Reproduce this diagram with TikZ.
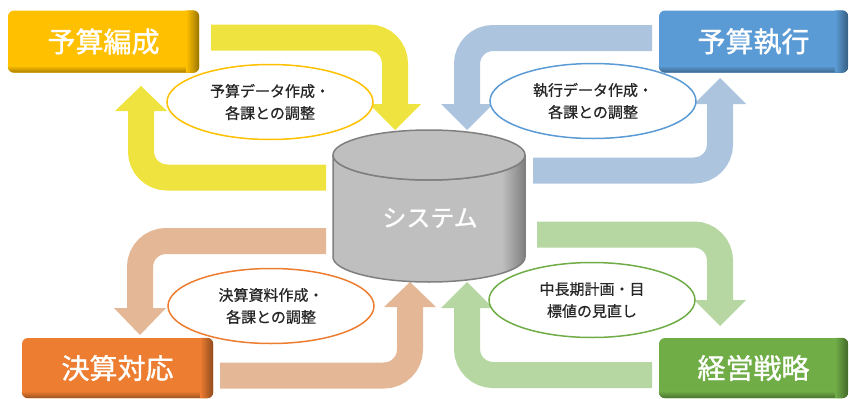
\documentclass[tikz,border=0pt]{standalone}
\usepackage{fontspec}
\newfontfamily\jp[FakeBold=0.6]{Noto Sans CJK JP}
\newfontfamily\jpb[FakeBold=1.2]{Noto Sans CJK JP}
\usetikzlibrary{shapes.geometric}
\definecolor{ay}{HTML}{EFE43F}
\definecolor{ab}{HTML}{ACC4DE}
\definecolor{ao}{HTML}{E4B896}
\definecolor{ag}{HTML}{B6D7A2}
\definecolor{cy}{HTML}{FFC000}
\definecolor{cb}{HTML}{5B9BD5}
\definecolor{co}{HTML}{ED7D31}
\definecolor{cg}{HTML}{70AD47}
\definecolor{cylg}{HTML}{BFBFBF}
\definecolor{cyld}{HTML}{7F7F7F}
\pgfdeclarehorizontalshading{cylsh}{100bp}{color(0bp)=(cylg); color(25bp)=(cylg); color(69bp)=(cylg); color(75bp)=(cyld); color(100bp)=(cyld)}
\newcommand\boxshade[2]{%
  \begin{scope}
    \clip[rounded corners=6pt] (#1.south west) rectangle (#1.north east);
    \shade[top color=#2, bottom color=#2!65!black] ([yshift=7pt]#1.south west) rectangle (#1.south east);
    \shade[left color=#2, right color=#2!60!black] ([xshift=-13pt]#1.north east) rectangle (#1.south east);
  \end{scope}}
\begin{document}
\begin{tikzpicture}[x=1pt,y=-1pt,
  band/.style={line width=26pt, rounded corners=26pt, line cap=butt},
  mainbox/.style={rounded corners=6pt, minimum width=191pt, minimum height=62pt, inner sep=0pt},
  boxtext/.style={text=white, font=\jpb\fontsize{28}{30}\selectfont},
  bubble/.style={ellipse, draw, line width=1.5pt, fill=white, minimum width=206pt, minimum height=75pt, inner sep=0pt, align=center, text=black!85, font=\jp\fontsize{15}{22}\selectfont}]
\useasboundingbox (0,0) rectangle (849,399);
% arrows
\draw[band, ay] (211,37.5) -- (395,37.5) -- (395,105);
\fill[ay] (369,104) -- (421,104) -- (395,130) -- cycle;
\draw[band, ay] (326,177.5) -- (141,177.5) -- (141,110);
\fill[ay] (115,111) -- (167,111) -- (141,86) -- cycle;
\draw[band, ab] (652,38) -- (467,38) -- (467,105);
\fill[ab] (441,104) -- (493,104) -- (467,130) -- cycle;
\draw[band, ab] (533,170.5) -- (720,170.5) -- (720,103);
\fill[ab] (694,104) -- (746,104) -- (720,78) -- cycle;
\draw[band, ao] (326,241) -- (140,241) -- (140,309);
\fill[ao] (114,308) -- (166,308) -- (140,335) -- cycle;
\draw[band, ao] (220,375.5) -- (410,375.5) -- (410,306);
\fill[ao] (384,307) -- (436,307) -- (410,282) -- cycle;
\draw[band, ag] (537,234.5) -- (720,234.5) -- (720,301);
\fill[ag] (694,300) -- (746,300) -- (720,326) -- cycle;
\draw[band, ag] (652,375) -- (467,375) -- (467,307);
\fill[ag] (441,308) -- (493,308) -- (467,282) -- cycle;
% cylinder
\shade[shading=cylsh, draw=cyld, line width=1.5pt] (333,155) -- (333,257) arc[start angle=180, end angle=0, x radius=96, y radius=25] -- (525,155) arc[start angle=0, end angle=180, x radius=96, y radius=25] -- cycle;
\draw[fill=cylg, draw=cyld, line width=1.5pt] (429,155) ellipse [x radius=96, y radius=25];
\node[text=white, font=\jpb\fontsize{24}{26}\selectfont] (sys) at (430,218) {システム};
% boxes
\node[mainbox, fill=cy] (hen) at (103.5,41.5) {};
\boxshade{hen}{cy}
\node[boxtext] (hent) at (hen) {予算編成};
\node[mainbox, fill=cb, minimum width=189pt] (shi) at (753.5,41.5) {};
\boxshade{shi}{cb}
\node[boxtext] (shit) at (shi) {予算執行};
\node[mainbox, fill=co, minimum height=60pt] (kes) at (117.5,368) {};
\boxshade{kes}{co}
\node[boxtext] (kest) at (kes) {決算対応};
\node[mainbox, fill=cg, minimum width=189pt, minimum height=60pt] (kei) at (753.5,368) {};
\boxshade{kei}{cg}
\node[boxtext] (keit) at (kei) {経営戦略};
% bubbles
\node[bubble, draw=cy] (b1) at (270,102) {予算データ作成・\\各課との調整};
\node[bubble, draw=cb] (b2) at (593,101) {執行データ作成・\\各課との調整};
\node[bubble, draw=co] (b3) at (271,306) {決算資料作成・\\各課との調整};
\node[bubble, draw=cg] (b4) at (592,300) {中長期計画・目\\標値の見直し};
\end{tikzpicture}
\end{document}
